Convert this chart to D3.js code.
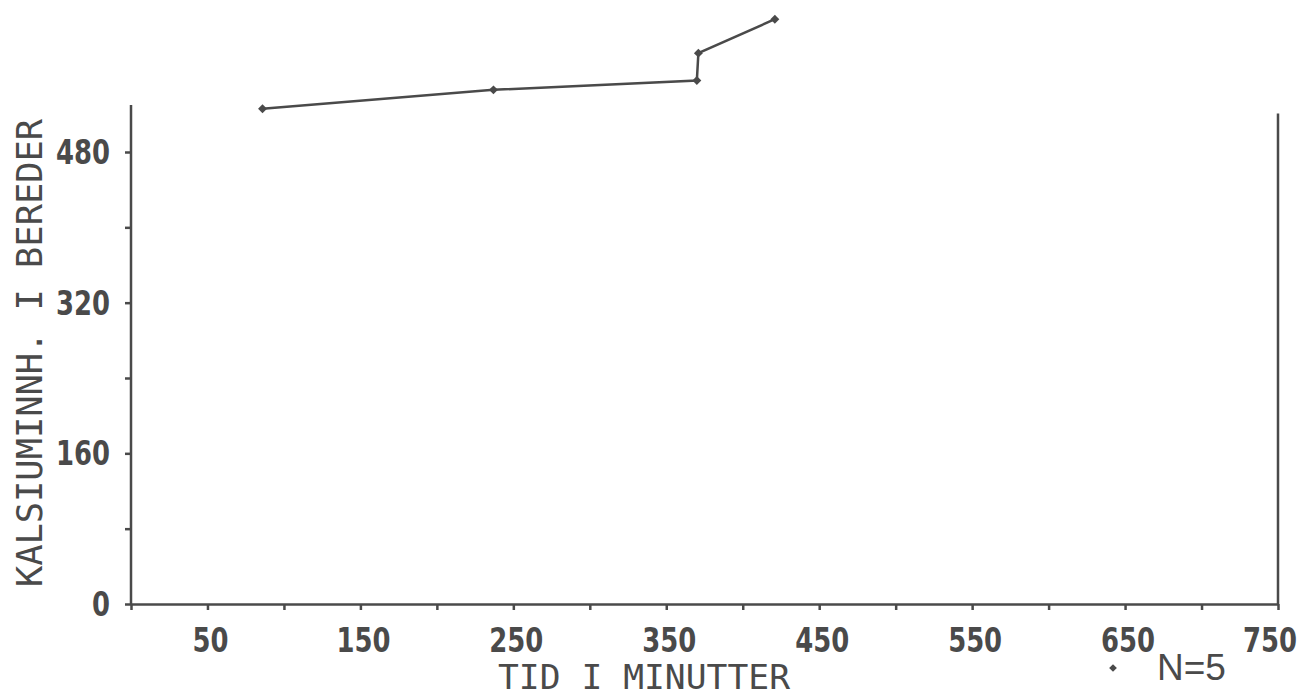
<!DOCTYPE html>
<html>
<head>
<meta charset="utf-8">
<script src="https://cdn.jsdelivr.net/npm/d3@7/dist/d3.min.js"></script>
<style>
  html, body { margin: 0; padding: 0; background: #fff; }
  svg { display: block; }
</style>
</head>
<body>
<svg id="chart" width="1314" height="698"></svg>
<script>
// ---- data ----
const timeMinutes = [86, 237, 370, 371, 421];
const calcium = [526, 546, 556, 585, 621];
const xTickValues = [0, 50, 100, 150, 200, 250, 300, 350, 400, 450, 500, 550, 600, 650, 700, 750];
const xTickLabels = [50, 150, 250, 350, 450, 550, 650, 750];
const yTickValues = [0, 80, 160, 240, 320, 400, 480];
const yTickLabels = [0, 160, 320, 480];
const xTitle = "TID I MINUTTER";
const yTitle = "KALSIUMINNH. I BEREDER";
const legendText = "N=5";

// ---- layout ----
const ink = "#4a4a4a";
const svg = d3.select("#chart");
const x = d3.scaleLinear().domain([0, 750]).range([131, 1278]);
const y = d3.scaleLinear().domain([0, 480]).range([604, 152]);
const leftAxisTop = 530, rightAxisTop = 521;

// axis lines
svg.append("line").attr("x1", x(0)).attr("x2", x(0)).attr("y1", y(0)).attr("y2", y(leftAxisTop))
  .attr("stroke", ink).attr("stroke-width", 2.5);
svg.append("line").attr("x1", x(750)).attr("x2", x(750)).attr("y1", y(0)).attr("y2", y(rightAxisTop))
  .attr("stroke", ink).attr("stroke-width", 2.5);

// x axis ticks
const gx = svg.append("g").attr("transform", `translate(0,${y(0)})`)
  .call(d3.axisBottom(x).tickValues(xTickValues).tickSize(6).tickSizeOuter(0).tickFormat(""));
gx.select(".domain").attr("stroke", ink).attr("stroke-width", 2.5);
gx.selectAll(".tick line").attr("stroke", ink).attr("stroke-width", 2.5);

// y axis ticks
const gy = svg.append("g").attr("transform", `translate(${x(0)},0)`)
  .call(d3.axisLeft(y).tickValues(yTickValues).tickSize(6).tickSizeOuter(0).tickFormat(""));
gy.select(".domain").remove();
gy.selectAll(".tick line").attr("stroke", ink).attr("stroke-width", 2.5);

// tick labels
const labelFont = "'DejaVu Sans', sans-serif";
svg.append("g").selectAll("text").data(xTickLabels).join("text")
  .attr("x", d => Math.min(x(d) + 3, 1270)).attr("y", 652)
  .attr("text-anchor", "middle")
  .attr("font-family", labelFont).attr("font-weight", "bold").attr("font-size", 33)
  .attr("textLength", d => String(d).length * 18).attr("lengthAdjust", "spacingAndGlyphs")
  .attr("fill", ink)
  .text(d => d);

svg.append("g").selectAll("text").data(yTickLabels).join("text")
  .attr("x", 110).attr("y", d => y(d) + 12)
  .attr("text-anchor", "end")
  .attr("font-family", labelFont).attr("font-weight", "bold").attr("font-size", 33)
  .attr("textLength", d => String(d).length * 18).attr("lengthAdjust", "spacingAndGlyphs")
  .attr("fill", ink)
  .text(d => d);

// axis titles
const titleFont = "'DejaVu Sans Mono', monospace";
svg.append("text")
  .attr("x", 644).attr("y", 689)
  .attr("text-anchor", "middle")
  .attr("font-family", titleFont).attr("font-size", 34)
  .attr("textLength", 292).attr("lengthAdjust", "spacingAndGlyphs")
  .attr("fill", ink)
  .text(xTitle);

svg.append("text")
  .attr("transform", "translate(42,353) rotate(-90)")
  .attr("text-anchor", "middle")
  .attr("font-family", titleFont).attr("font-size", 36)
  .attr("textLength", 468).attr("lengthAdjust", "spacingAndGlyphs")
  .attr("fill", ink)
  .text(yTitle);

// data line
const pts = timeMinutes.map((t, i) => [t, calcium[i]]);
svg.append("path")
  .datum(pts)
  .attr("fill", "none").attr("stroke", ink).attr("stroke-width", 2.5)
  .attr("d", d3.line().x(d => x(d[0])).y(d => y(d[1])));

const diamond = d3.symbol().type(d3.symbolSquare).size(40);
svg.append("g").selectAll("path").data(pts).join("path")
  .attr("transform", d => `translate(${x(d[0])},${y(d[1])}) rotate(45)`)
  .attr("d", diamond)
  .attr("fill", ink);

// legend
svg.append("path")
  .attr("transform", "translate(1113,668) rotate(45)")
  .attr("d", d3.symbol().type(d3.symbolSquare).size(30))
  .attr("fill", ink);
svg.append("text")
  .attr("x", 1157).attr("y", 680)
  .attr("font-family", "'Liberation Sans', Arial, sans-serif").attr("font-size", 37)
  .attr("fill", ink)
  .text(legendText);
</script>
</body>
</html>
